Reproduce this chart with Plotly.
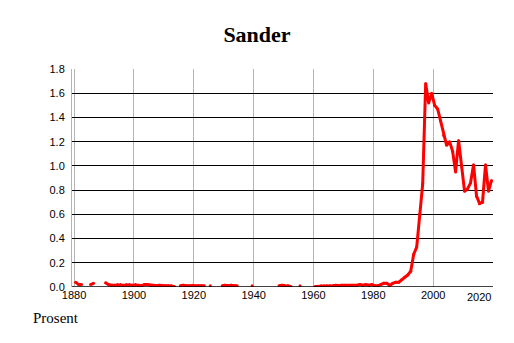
import plotly.graph_objects as go

# Years 1880..2019 ; None = missing year
years = list(range(1880, 2020))

early_1880_1913 = [0.04, 0.02, 0.02, None, None, 0.02, 0.03, None, None, None,
                   0.035, 0.02, 0.015, 0.015, 0.02, 0.02, 0.015, 0.02, 0.02, 0.015,
                   0.02, 0.015, 0.01, 0.02, 0.02, 0.015, 0.015, 0.01, 0.015, 0.01,
                   0.01, 0.01, 0.01, 0.005]
mid_1914_1959 = [None, 0.01, 0.015, 0.01, 0.01, 0.015, 0.01, 0.01, 0.01, 0.01,
                 None, 0.01, None, None, None, 0.01, 0.015, 0.01, 0.015, 0.01,
                 0.01, None, None, None, None, 0.01, None, None, None, None,
                 None, None, None, None, 0.01, 0.015, 0.01, 0.01, 0.005, None,
                 None, 0.01, None, None, None, None]
late_1960_1979 = [0.005, 0.005, 0.01, 0.01, 0.01, 0.01, 0.01, 0.015, 0.01, 0.015,
                  0.015, 0.01, 0.015, 0.015, 0.015, 0.02, 0.015, 0.02, 0.015, 0.02]
recent_1980_2019 = [0.01, 0.01, 0.02, 0.03, 0.03, 0.015, 0.03, 0.04, 0.04, 0.06,
                    0.08, 0.10, 0.13, 0.27, 0.33, 0.60, 0.85, 1.68, 1.52, 1.60,
                    1.50, 1.47, 1.37, 1.25, 1.17, 1.20, 1.12, 0.95, 1.21, 1.00,
                    0.79, 0.81, 0.86, 1.01, 0.75, 0.69, 0.70, 1.01, 0.79, 0.88]
values = early_1880_1913 + mid_1914_1959 + late_1960_1979 + recent_1980_2019

x_ticks = [1880, 1900, 1920, 1940, 1960, 1980, 2000, 2020]
y_ticks = [0.0, 0.2, 0.4, 0.6, 0.8, 1.0, 1.2, 1.4, 1.6, 1.8]

# each year's value is drawn at the middle of its year slot
x_pos = [y + 0.5 for y in years]

fig = go.Figure()
fig.add_trace(go.Scatter(
    x=x_pos, y=values, mode="lines+markers",
    line=dict(color="#ff0000", width=3),
    marker=dict(color="#ff0000", size=3),
    connectgaps=False, hoverinfo="skip", showlegend=False,
))

# last x label is pulled left so it ends at the plot edge
x_text = [str(v) for v in x_ticks[:-1]] + [""]

fig.update_layout(
    width=514, height=343,
    margin=dict(l=72, r=21, t=69, b=56),
    paper_bgcolor="white", plot_bgcolor="white",
    title=dict(text="<b>Sander</b>", x=0.5, xanchor="center",
               y=1 - 34 / 343, yanchor="middle", yref="container",
               font=dict(family="Liberation Serif", size=22, color="black")),
    font=dict(family="Liberation Sans", size=11, color="black"),
    xaxis=dict(range=[1879.3, 2020], tickvals=x_ticks, ticktext=x_text,
               showgrid=True, gridcolor="#b4b4b4", gridwidth=1,
               zeroline=False, showline=False, ticks="", ticklen=0,
               tickfont=dict(family="Liberation Sans", size=11, color="black")),
    yaxis=dict(range=[0, 1.8], tickvals=y_ticks, ticktext=[f"{v:.1f}" for v in y_ticks],
               showgrid=True, gridcolor="black", gridwidth=1,
               zeroline=False, showline=True, linecolor="#b4b4b4", linewidth=1,
               ticks="", ticklabelstandoff=4,
               tickfont=dict(family="Liberation Sans", size=11, color="black")),
    annotations=[
        dict(text="Prosent", xref="paper", yref="paper",
             x=-41 / 421, y=-31 / 218, xanchor="left", yanchor="middle",
             showarrow=False,
             font=dict(family="Liberation Serif", size=15, color="black")),
        dict(text=str(x_ticks[-1]), xref="x", yref="paper",
             x=x_ticks[-1], y=0, xanchor="right", yanchor="top", yshift=-2,
             showarrow=False,
             font=dict(family="Liberation Sans", size=11, color="black")),
    ],
)
# black baseline along the bottom of the plot
fig.add_hline(y=0, line=dict(color="black", width=1.5))

fig.write_html("out.html")
